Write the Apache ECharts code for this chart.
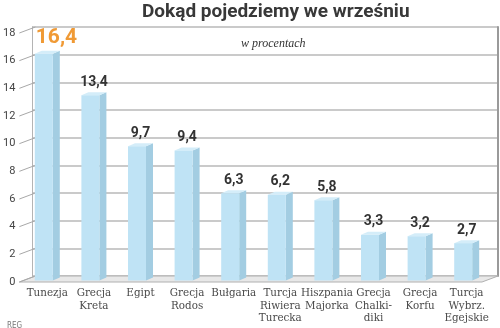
<!DOCTYPE html>
<html>
<head>
<meta charset="utf-8">
<script src="https://cdn.jsdelivr.net/npm/echarts@6/dist/echarts.min.js"></script>
<style>
  html, body { margin: 0; padding: 0; background: #fff; }
  #chart { width: 500px; height: 328px; }
</style>
</head>
<body>
<div id="chart"></div>
<script>
// Destinations and their share, in percent
const categories = ['Tunezja', 'Grecja\nKreta', 'Egipt', 'Grecja\nRodos', 'Bułgaria',
  'Turcja\nRiwiera\nTurecka', 'Hiszpania\nMajorka', 'Grecja\nChalki-\ndiki', 'Grecja\nKorfu',
  'Turcja\nWybrz.\nEgejskie'];
const shares = [16.4, 13.4, 9.7, 9.4, 6.3, 6.2, 5.8, 3.3, 3.2, 2.7];
const yTicks = [0, 2, 4, 6, 8, 10, 12, 14, 16, 18];

// Depth of the box (front plane -> back wall) and of each bar
const WALL_DX = 16, WALL_DY = 6;
const BAR_DX = 7, BAR_DY = 3;

const fmt = v => v.toFixed(1).replace('.', ',');

const chart = echarts.init(document.getElementById('chart'), null, { renderer: 'canvas' });

const hiddenX = idx => ({
  type: 'category', gridIndex: idx, data: categories,
  axisLine: { show: false }, axisTick: { show: false }, axisLabel: { show: false }
});

chart.setOption({
  animation: false,
  backgroundColor: '#ffffff',
  textStyle: { fontFamily: 'Roboto, sans-serif' },
  title: [
    { text: 'Dokąd pojedziemy we wrześniu', left: 142, top: 3, padding: 0,
      textStyle: { fontSize: 19, fontWeight: 'bold', color: '#383838', fontFamily: 'Roboto, sans-serif' } },
    { text: 'w procentach', left: 236, top: 33,
      textStyle: { fontSize: 12, fontStyle: 'italic', fontWeight: 'normal', color: '#333', fontFamily: '"Liberation Serif", serif' } },
    { text: 'REG', left: 2, top: 317,
      textStyle: { fontSize: 8, fontWeight: 'normal', color: '#777', fontFamily: '"DejaVu Sans Condensed", "DejaVu Sans", sans-serif' } }
  ],
  grid: [
    // back wall
    { left: 32, top: 27, width: 466, height: 249 },
    // front plane
    { left: 16, top: 33, width: 466, height: 249 },
    // middle plane, where the bars stand
    { left: 24, top: 30, width: 466, height: 249 }
  ],
  xAxis: [
    hiddenX(0),
    hiddenX(1),
    {
      type: 'category', gridIndex: 2, data: categories,
      axisLine: { show: false }, axisTick: { show: false },
      axisLabel: {
        interval: 0, margin: 8, color: '#4a4a4a', fontSize: 11.5, lineHeight: 12.5,
        fontFamily: '"DejaVu Serif Condensed", "Liberation Serif", serif'
      }
    }
  ],
  yAxis: [
    {
      type: 'value', gridIndex: 0, min: 0, max: 18, interval: 2,
      axisLine: { show: true, lineStyle: { color: '#b4b4b4', width: 1 } },
      axisTick: { show: false }, axisLabel: { show: false },
      splitLine: { show: true, lineStyle: { color: '#b9b9b9', width: 1.5 } }
    },
    {
      type: 'value', gridIndex: 0, min: 0, max: 18, interval: 2, position: 'right',
      axisLine: { show: true, lineStyle: { color: '#9a9a9a', width: 2 } },
      axisTick: { show: false }, axisLabel: { show: false }, splitLine: { show: false }
    },
    {
      type: 'value', gridIndex: 1, min: 0, max: 18, interval: 2,
      axisLine: { show: false }, axisTick: { show: false }, splitLine: { show: false },
      axisLabel: { margin: 4, color: '#444', fontSize: 11, fontFamily: 'Roboto, sans-serif' }
    },
    {
      type: 'value', gridIndex: 2, min: 0, max: 18, interval: 2,
      axisLine: { show: false }, axisTick: { show: false }, splitLine: { show: false },
      axisLabel: { show: false }
    }
  ],
  series: [
    {
      // floor of the box
      type: 'custom', xAxisIndex: 1, yAxisIndex: 2, z: 1,
      data: [[0, 0]],
      renderItem: (params, api) => {
        const cs = params.coordSys;
        const y0 = api.coord([0, 0])[1];
        return {
          type: 'polygon',
          shape: { points: [
            [cs.x, y0], [cs.x + cs.width, y0],
            [cs.x + cs.width + WALL_DX, y0 - WALL_DY], [cs.x + WALL_DX, y0 - WALL_DY]
          ] },
          style: { fill: '#e8e8e8', stroke: '#b0b0b0', lineWidth: 1 }
        };
      }
    },
    {
      // slanted ticks joining the front labels with the wall grid
      type: 'custom', xAxisIndex: 1, yAxisIndex: 2, z: 1,
      data: yTicks.map(v => [0, v]),
      renderItem: (params, api) => {
        const cs = params.coordSys;
        const y = api.coord([0, api.value(1)])[1];
        return {
          type: 'line',
          shape: { x1: cs.x, y1: y, x2: cs.x + WALL_DX, y2: y - WALL_DY },
          style: { stroke: '#a8a8a8', lineWidth: 1 }
        };
      }
    },
    {
      // 3D-looking bars with their value labels
      type: 'custom', xAxisIndex: 2, yAxisIndex: 3, z: 3,
      data: shares.map((v, i) => [i, v]),
      renderItem: (params, api) => {
        const i = api.value(0), v = api.value(1);
        const c = api.coord([i, v]);
        const c0 = api.coord([i, 0]);
        const x1 = c[0] - 12.5, x2 = c[0] + 5.5;
        const ty = c[1] + 1.5, by = c0[1] + 1.5;
        const first = params.dataIndex === 0;
        return {
          type: 'group',
          children: [
            { type: 'polygon',
              shape: { points: [[x2, ty], [x2 + BAR_DX, ty - BAR_DY], [x2 + BAR_DX, by - BAR_DY], [x2, by]] },
              style: { fill: '#a3cde2' } },
            { type: 'polygon',
              shape: { points: [[x1, ty], [x1 + BAR_DX, ty - BAR_DY], [x2 + BAR_DX, ty - BAR_DY], [x2, ty]] },
              style: { fill: '#d4edf9' } },
            { type: 'rect',
              shape: { x: x1, y: ty, width: x2 - x1, height: by - ty },
              style: { fill: '#bfe3f5' } },
            { type: 'text',
              style: {
                text: fmt(v),
                x: first ? x1 + 1 : c[0],
                y: ty - BAR_DY - (first ? 13 : 10),
                align: first ? 'left' : 'center',
                verticalAlign: 'middle',
                fill: first ? '#f09a35' : '#333',
                font: first ? 'bold 21px Roboto, sans-serif' : 'bold 14px Roboto, sans-serif'
              } }
          ]
        };
      }
    }
  ]
});
</script>
</body>
</html>
